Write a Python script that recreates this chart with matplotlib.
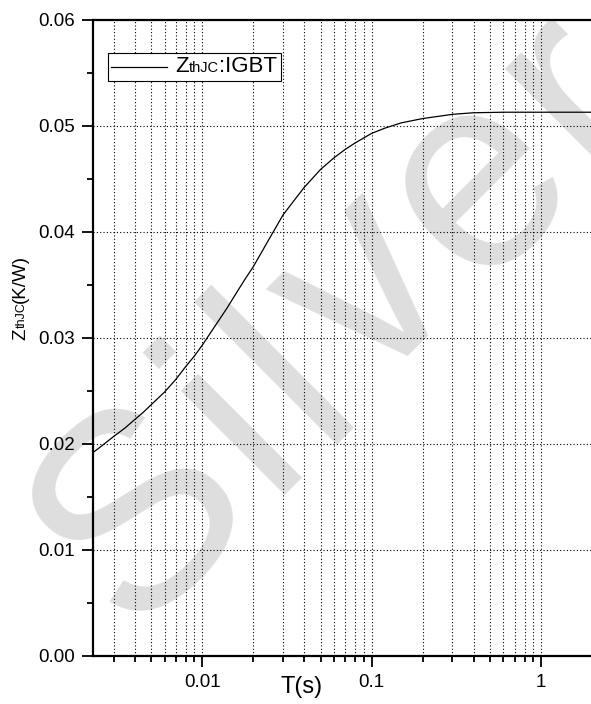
import matplotlib
matplotlib.use("Agg")
import numpy as np
import matplotlib.pyplot as plt
from matplotlib.lines import Line2D
from matplotlib.font_manager import FontProperties
from matplotlib.offsetbox import AnchoredOffsetbox, HPacker, TextArea, DrawingArea
from matplotlib.ticker import LogLocator, FixedLocator, FixedFormatter, MultipleLocator, NullFormatter

plt.rcParams['font.family'] = ['Liberation Sans', 'DejaVu Sans']

# transient thermal impedance, junction to case (IGBT)
t_s = [0.00227, 0.0025, 0.003, 0.0035, 0.004, 0.0045, 0.005, 0.006, 0.007, 0.008,
       0.009, 0.01, 0.012, 0.014, 0.016, 0.018, 0.02, 0.025, 0.03, 0.035,
       0.04, 0.05, 0.06, 0.07, 0.08, 0.1, 0.12, 0.15, 0.2, 0.3,
       0.4, 0.6, 1.0, 2.0]
z_thjc = [0.0192, 0.0197, 0.0207, 0.0215, 0.0223, 0.0230, 0.0237, 0.0249, 0.0261, 0.0273,
          0.0283, 0.0293, 0.0312, 0.0328, 0.0343, 0.0356, 0.0367, 0.0394, 0.0416, 0.0430,
          0.0442, 0.0459, 0.0470, 0.0478, 0.0484, 0.0493, 0.0498, 0.0503, 0.0507, 0.0511,
          0.05125, 0.0513, 0.0513, 0.0513]

x_ticks = [0.01, 0.1, 1]
x_tick_labels = ['0.01', '0.1', '1']
y_ticks = [0.00, 0.01, 0.02, 0.03, 0.04, 0.05, 0.06]

W, H = 591, 704
fig = plt.figure(figsize=(W / 100, H / 100), dpi=100)
ax = fig.add_axes([93 / W, 1 - 656 / H, (592 - 93) / W, (656 - 20) / H])
renderer = fig.canvas.get_renderer()

# watermark, letter by letter with a little extra tracking, behind everything
mark = 'Silver'
mark_prop = FontProperties(family='Liberation Sans', size=200)
angle = 45
track = 10  # px between letters
direction = np.array([np.cos(np.radians(angle)), np.sin(np.radians(angle))])
prefix_w = [renderer.get_text_width_height_descent(mark[:k], mark_prop, ismath=False)[0]
            if k else 0.0 for k in range(len(mark) + 1)]
origin = np.array([129.0, H - 634.0])  # start of the baseline, in pixels
for k, ch in enumerate(mark):
    px, py = origin + direction * (prefix_w[k] + track * k)
    ax.text(px / W, py / H, ch, transform=fig.transFigure, fontproperties=mark_prop,
            color='#dedede', rotation=angle, rotation_mode='anchor', ha='left',
            va='baseline', zorder=0.5, clip_on=False)

ax.plot(t_s, z_thjc, color='black', lw=0.9, zorder=3)

ax.set_xscale('log')
ax.set_xlim(0.00227, 2.0)
ax.set_ylim(0, 0.06)

ax.xaxis.set_major_locator(FixedLocator(x_ticks))
ax.xaxis.set_major_formatter(FixedFormatter(x_tick_labels))
ax.xaxis.set_minor_locator(LogLocator(base=10, subs=range(2, 10)))
ax.xaxis.set_minor_formatter(NullFormatter())
ax.yaxis.set_major_locator(FixedLocator(y_ticks))
ax.yaxis.set_major_formatter(FixedFormatter([f'{v:.2f}' for v in y_ticks]))
ax.yaxis.set_minor_locator(MultipleLocator(0.005))

ax.tick_params(which='major', direction='out', length=8, width=1.3, labelsize=13.5, pad=5,
               top=False, right=False)
ax.tick_params(which='minor', direction='out', length=4.5, width=1.3, top=False, right=False)

grid_style = dict(color='black', linestyle=(0, (1, 2)), linewidth=0.8)
ax.xaxis.grid(True, which='both', **grid_style)
ax.yaxis.grid(True, which='major', **grid_style)

for side in ['left', 'bottom', 'top']:
    ax.spines[side].set_linewidth(1.6)
ax.spines['right'].set_visible(False)

ax.set_xlabel('T(s)', fontsize=17)
ax.xaxis.set_label_coords(0.417, -0.031)

# y label with the smaller "thJC" sitting on the same baseline
y_pos = (H - 340) / H
for piece, size in [('Z', 13.5), ('thJC', 9), ('(K/W)', 13.5)]:
    t = fig.text(25 / W, y_pos, piece, fontsize=size, rotation=90, rotation_mode='anchor',
                 ha='left', va='baseline')
    y_pos += t.get_window_extent(renderer).height / H

# legend box
da = DrawingArea(40, 10, 0, 0)
da.add_artist(Line2D([0, 40], [5, 5], color='black', lw=0.9))
label = HPacker(children=[TextArea('Z', textprops=dict(fontsize=16)),
                          TextArea('thJC', textprops=dict(fontsize=10.5)),
                          TextArea(':IGBT', textprops=dict(fontsize=16))],
                align='baseline', pad=0, sep=0)
box = HPacker(children=[da, label], align='center', pad=0, sep=6)
legend = AnchoredOffsetbox(loc='upper left', child=box, pad=0.25, borderpad=0,
                           frameon=True, prop=dict(size=10),
                           bbox_to_anchor=(108 / W, 1 - 53 / H),
                           bbox_transform=fig.transFigure)
legend.patch.set_edgecolor('black')
legend.patch.set_linewidth(0.8)
legend.patch.set_boxstyle('square', pad=0)
legend.set_zorder(5)
ax.add_artist(legend)

fig.savefig('out.png', dpi=100)
